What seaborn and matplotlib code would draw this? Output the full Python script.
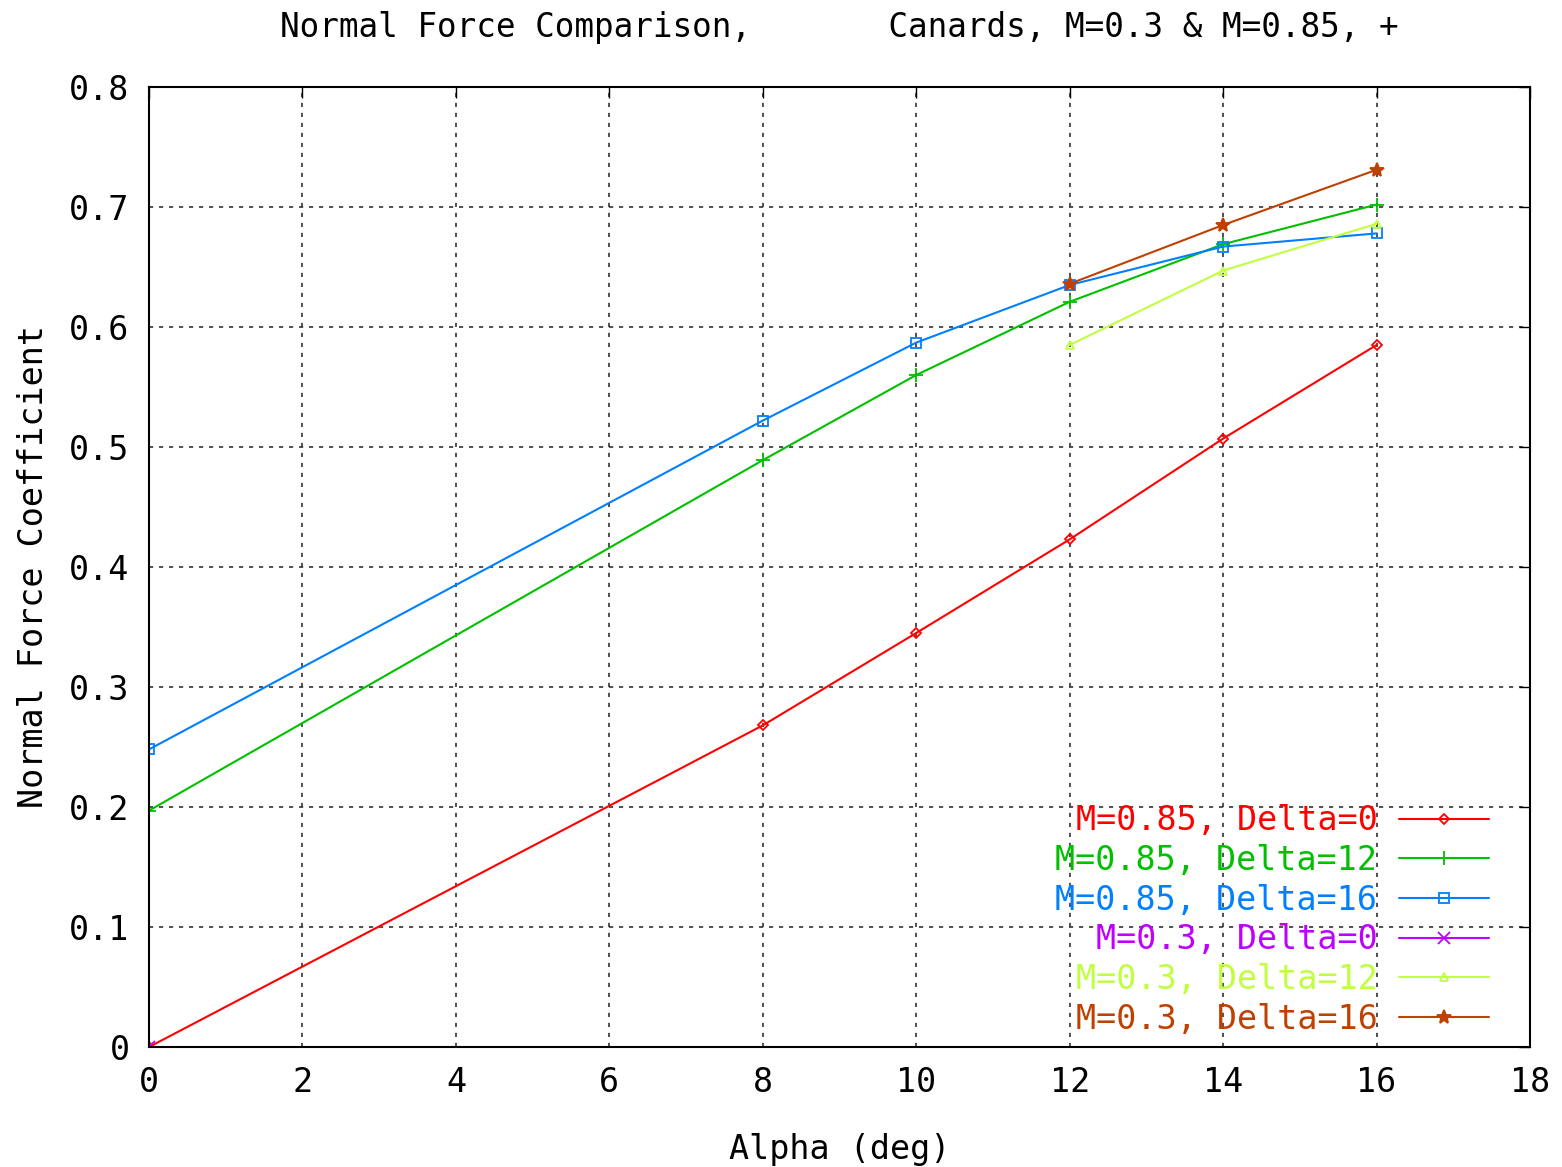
import seaborn as sns
import matplotlib.pyplot as plt
import pandas as pd

# data
labels = ['M=0.85, Delta=0', 'M=0.85, Delta=12', 'M=0.85, Delta=16',
          'M=0.3, Delta=0', 'M=0.3, Delta=12', 'M=0.3, Delta=16']
alpha_085 = [0, 8, 10, 12, 14, 16]
cn_085_d0 = [0.0, 0.268, 0.345, 0.423, 0.507, 0.585]
cn_085_d12 = [0.197, 0.489, 0.560, 0.621, 0.669, 0.702]
cn_085_d16 = [0.248, 0.522, 0.587, 0.635, 0.667, 0.678]
alpha_03_d0 = [0]
cn_03_d0 = [0.0]
alpha_03 = [12, 14, 16]
cn_03_d12 = [0.585, 0.647, 0.686]
cn_03_d16 = [0.636, 0.685, 0.731]

xs = [alpha_085, alpha_085, alpha_085, alpha_03_d0, alpha_03, alpha_03]
ys = [cn_085_d0, cn_085_d12, cn_085_d16, cn_03_d0, cn_03_d12, cn_03_d16]
colors = ['#ff0000', '#00c000', '#0080ff', '#c000ff', '#c0ff40', '#c04000']
markers = ['D', '+', 's', 'x', '^', '*']
msizes = [5, 10, 7, 8, 6, 10]
mfills = ['none', 'full', 'none', 'full', 'none', 'full']

sns.set_style("white")
plt.rcParams['font.family'] = ['DejaVu Sans Mono', 'DejaVu Sans']
plt.rcParams['text.color'] = 'black'
plt.rcParams['axes.labelcolor'] = 'black'

fig, ax = plt.subplots(figsize=(15.62, 11.67), dpi=100)
fig.subplots_adjust(left=149 / 1562, right=1530 / 1562, top=1 - 87 / 1167, bottom=1 - 1047 / 1167)

for lab, x, y, c, m, ms, mf in zip(labels, xs, ys, colors, markers, msizes, mfills):
    df = pd.DataFrame({'alpha': x, 'cn': y})
    sns.lineplot(data=df, x='alpha', y='cn', ax=ax, color=c, label=lab,
                 marker=m, markersize=ms, linewidth=1.5,
                 markerfacecolor=(c if mf == 'full' else 'none'),
                 markeredgecolor=c, markeredgewidth=1.3)

ax.set_xlim(0, 18)
ax.set_ylim(0, 0.8)
ax.set_xticks(range(0, 19, 2))
ax.set_yticks([i / 10 for i in range(9)])
ax.set_yticklabels(['0'] + ['0.%d' % i for i in range(1, 9)])
ax.tick_params(direction='in', length=8, width=1, top=True, right=True,
               labelsize=24, pad=14, colors='black')
ax.grid(True, color='#333333', linestyle=(0, (2.5, 3.5)), linewidth=1.2)
for s in ax.spines.values():
    s.set_color('black')
    s.set_linewidth(1.5)

ax.set_xlabel('Alpha (deg)', fontsize=24, labelpad=24)
ax.set_ylabel('Normal Force Coefficient', fontsize=24, labelpad=14)
ax.set_title('Normal Force Comparison,       Canards, M=0.3 & M=0.85, +',
             fontsize=23.5, pad=36)

leg = ax.legend(loc='lower right', bbox_to_anchor=(0.98, -0.002), frameon=False,
                markerfirst=False, fontsize=24, handlelength=2.7, handletextpad=0.65,
                labelspacing=0.2, borderaxespad=0, labelcolor='linecolor')

plt.savefig('out.png', dpi=100)
